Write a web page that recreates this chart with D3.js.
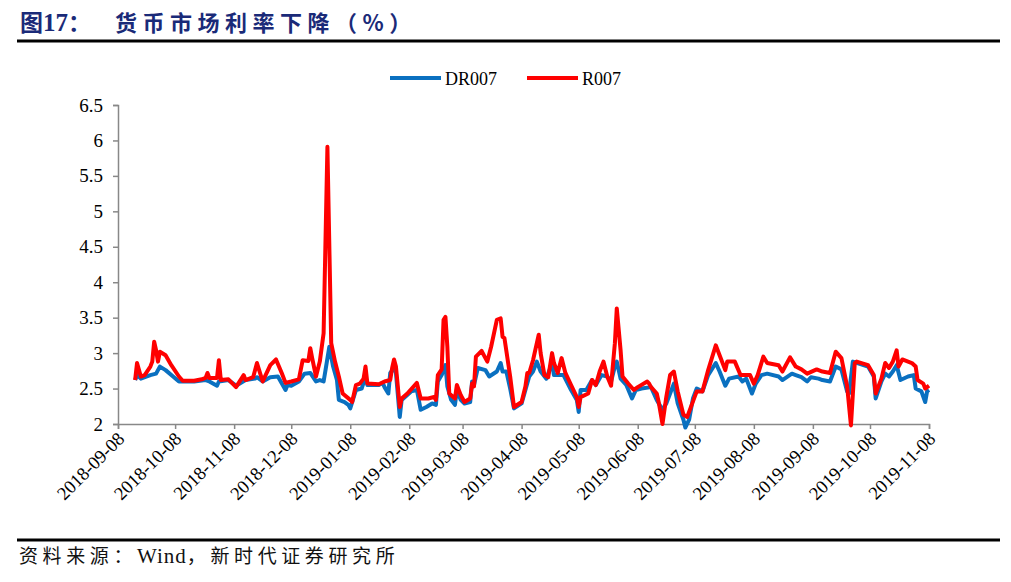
<!DOCTYPE html>
<html><head><meta charset="utf-8">
<script src="https://cdn.jsdelivr.net/npm/d3@7"></script>
<style>
body{margin:0;background:#fff;}
svg{display:block;}
</style></head>
<body>
<svg id="chart" width="1011" height="582"></svg>
<script>
const seriesNames = ["DR007", "R007"];
const xTickDates = ["2018-09-08","2018-10-08","2018-11-08","2018-12-08","2019-01-08","2019-02-08","2019-03-08","2019-04-08","2019-05-08","2019-06-08","2019-07-08","2019-08-08","2019-09-08","2019-10-08","2019-11-08"];
const yTicks = [2, 2.5, 3, 3.5, 4, 4.5, 5, 5.5, 6, 6.5];

const drDates = ["2018-09-17","2018-09-18","2018-09-20","2018-09-25","2018-09-28","2018-09-30","2018-10-03","2018-10-06","2018-10-10","2018-10-18","2018-10-24","2018-10-26","2018-10-30","2018-10-31","2018-11-05","2018-11-09","2018-11-14","2018-11-19","2018-11-20","2018-11-23","2018-11-27","2018-12-01","2018-12-05","2018-12-06","2018-12-08","2018-12-12","2018-12-15","2018-12-18","2018-12-21","2018-12-23","2018-12-25","2018-12-26","2018-12-28","2018-12-30","2019-01-01","2019-01-02","2019-01-05","2019-01-07","2019-01-08","2019-01-11","2019-01-14","2019-01-16","2019-01-17","2019-01-23","2019-01-25","2019-01-26","2019-01-28","2019-01-29","2019-01-31","2019-02-01","2019-02-03","2019-02-04","2019-02-09","2019-02-12","2019-02-14","2019-02-17","2019-02-20","2019-02-22","2019-02-23","2019-02-25","2019-02-27","2019-02-28","2019-03-02","2019-03-04","2019-03-05","2019-03-07","2019-03-09","2019-03-12","2019-03-13","2019-03-14","2019-03-16","2019-03-20","2019-03-22","2019-03-26","2019-03-28","2019-03-29","2019-03-31","2019-04-02","2019-04-04","2019-04-08","2019-04-10","2019-04-12","2019-04-14","2019-04-16","2019-04-18","2019-04-21","2019-04-24","2019-04-25","2019-04-30","2019-05-04","2019-05-07","2019-05-08","2019-05-09","2019-05-12","2019-05-15","2019-05-17","2019-05-20","2019-05-23","2019-05-25","2019-05-27","2019-05-28","2019-05-30","2019-06-02","2019-06-05","2019-06-07","2019-06-10","2019-06-15","2019-06-18","2019-06-21","2019-06-23","2019-06-25","2019-06-27","2019-06-29","2019-07-02","2019-07-03","2019-07-05","2019-07-07","2019-07-09","2019-07-12","2019-07-15","2019-07-19","2019-07-21","2019-07-24","2019-07-26","2019-07-31","2019-08-02","2019-08-04","2019-08-07","2019-08-09","2019-08-12","2019-08-15","2019-08-21","2019-08-23","2019-08-28","2019-08-30","2019-09-02","2019-09-05","2019-09-07","2019-09-11","2019-09-13","2019-09-17","2019-09-20","2019-09-23","2019-09-26","2019-09-27","2019-09-29","2019-10-07","2019-10-10","2019-10-11","2019-10-14","2019-10-16","2019-10-18","2019-10-20","2019-10-22","2019-10-24","2019-10-28","2019-10-31","2019-11-01","2019-11-04","2019-11-06","2019-11-07","2019-11-08"];
const drValues = [2.62,2.69,2.64,2.69,2.71,2.81,2.76,2.69,2.60,2.60,2.62,2.60,2.54,2.60,2.62,2.54,2.62,2.64,2.66,2.60,2.66,2.67,2.48,2.55,2.54,2.60,2.71,2.72,2.60,2.62,2.60,2.76,3.09,2.81,2.62,2.34,2.31,2.27,2.22,2.48,2.50,2.67,2.55,2.55,2.58,2.52,2.43,2.72,2.79,2.72,2.10,2.34,2.46,2.48,2.20,2.24,2.29,2.27,2.60,2.69,2.83,2.53,2.34,2.27,2.48,2.34,2.29,2.31,2.60,2.55,2.79,2.76,2.67,2.74,2.86,2.74,2.74,2.50,2.22,2.29,2.48,2.67,2.74,2.88,2.74,2.64,2.86,2.69,2.69,2.48,2.34,2.17,2.48,2.48,2.62,2.55,2.69,2.67,2.60,2.81,2.88,2.64,2.55,2.36,2.48,2.50,2.52,2.34,2.20,2.29,2.43,2.57,2.29,2.06,1.95,2.06,2.36,2.50,2.46,2.69,2.86,2.74,2.54,2.64,2.67,2.60,2.64,2.43,2.57,2.69,2.71,2.67,2.62,2.71,2.69,2.66,2.60,2.66,2.64,2.62,2.60,2.81,2.77,2.46,2.43,2.88,2.81,2.67,2.36,2.60,2.71,2.67,2.74,2.83,2.62,2.67,2.69,2.50,2.46,2.31,2.46,2.48];

const rDates = ["2018-09-17","2018-09-18","2018-09-20","2018-09-22","2018-09-25","2018-09-26","2018-09-27","2018-09-28","2018-09-29","2018-09-30","2018-10-03","2018-10-06","2018-10-10","2018-10-12","2018-10-18","2018-10-22","2018-10-24","2018-10-25","2018-10-26","2018-10-30","2018-10-31","2018-11-01","2018-11-05","2018-11-09","2018-11-13","2018-11-14","2018-11-18","2018-11-20","2018-11-23","2018-11-27","2018-11-30","2018-12-03","2018-12-05","2018-12-08","2018-12-12","2018-12-14","2018-12-17","2018-12-18","2018-12-19","2018-12-21","2018-12-23","2018-12-25","2018-12-27","2018-12-29","2018-12-31","2019-01-02","2019-01-04","2019-01-08","2019-01-09","2019-01-11","2019-01-13","2019-01-15","2019-01-16","2019-01-17","2019-01-23","2019-01-26","2019-01-29","2019-01-30","2019-01-31","2019-02-01","2019-02-03","2019-02-04","2019-02-07","2019-02-12","2019-02-14","2019-02-18","2019-02-21","2019-02-22","2019-02-23","2019-02-25","2019-02-26","2019-02-27","2019-02-28","2019-03-01","2019-03-04","2019-03-05","2019-03-07","2019-03-09","2019-03-12","2019-03-13","2019-03-14","2019-03-15","2019-03-18","2019-03-20","2019-03-21","2019-03-23","2019-03-26","2019-03-28","2019-03-29","2019-03-30","2019-04-02","2019-04-04","2019-04-08","2019-04-10","2019-04-11","2019-04-12","2019-04-14","2019-04-17","2019-04-18","2019-04-20","2019-04-22","2019-04-24","2019-04-25","2019-04-27","2019-04-29","2019-05-01","2019-05-04","2019-05-07","2019-05-08","2019-05-09","2019-05-13","2019-05-15","2019-05-17","2019-05-19","2019-05-21","2019-05-23","2019-05-25","2019-05-27","2019-05-28","2019-05-30","2019-05-31","2019-06-03","2019-06-06","2019-06-08","2019-06-13","2019-06-14","2019-06-15","2019-06-18","2019-06-19","2019-06-21","2019-06-23","2019-06-25","2019-06-27","2019-06-29","2019-07-02","2019-07-04","2019-07-09","2019-07-12","2019-07-15","2019-07-19","2019-07-21","2019-07-24","2019-07-25","2019-07-29","2019-08-01","2019-08-06","2019-08-08","2019-08-10","2019-08-13","2019-08-15","2019-08-21","2019-08-23","2019-08-27","2019-08-30","2019-09-02","2019-09-05","2019-09-10","2019-09-13","2019-09-17","2019-09-20","2019-09-23","2019-09-26","2019-09-28","2019-09-30","2019-10-01","2019-10-07","2019-10-10","2019-10-11","2019-10-14","2019-10-16","2019-10-18","2019-10-20","2019-10-22","2019-10-23","2019-10-25","2019-10-30","2019-11-01","2019-11-02","2019-11-05","2019-11-06","2019-11-08"];
const rValues = [2.62,2.86,2.67,2.69,2.81,2.88,3.16,3.04,2.88,3.02,2.97,2.83,2.67,2.61,2.61,2.63,2.65,2.72,2.65,2.65,2.90,2.62,2.63,2.52,2.69,2.62,2.66,2.86,2.60,2.83,2.91,2.72,2.58,2.60,2.63,2.90,2.89,3.07,2.93,2.67,2.88,3.28,5.91,3.14,2.88,2.67,2.43,2.34,2.31,2.55,2.57,2.64,2.81,2.57,2.56,2.60,2.62,2.79,2.91,2.81,2.24,2.36,2.43,2.58,2.36,2.36,2.38,2.34,2.69,2.77,3.47,3.51,3.09,2.43,2.36,2.55,2.41,2.31,2.36,2.57,2.53,2.95,3.03,2.93,2.88,3.09,3.47,3.49,3.23,3.21,2.67,2.24,2.31,2.53,2.72,2.72,2.90,3.26,3.00,2.69,2.66,3.00,2.86,2.72,2.93,2.72,2.55,2.38,2.24,2.38,2.43,2.62,2.55,2.74,2.88,2.67,2.54,3.14,3.63,3.04,2.67,2.57,2.48,2.52,2.60,2.57,2.52,2.43,2.31,2.00,2.38,2.69,2.74,2.46,2.13,2.10,2.46,2.46,2.76,3.11,2.97,2.76,2.88,2.88,2.69,2.69,2.57,2.69,2.95,2.86,2.83,2.74,2.94,2.81,2.77,2.71,2.77,2.74,2.72,3.02,2.93,2.53,1.98,2.86,2.88,2.83,2.69,2.43,2.64,2.86,2.79,2.88,3.04,2.81,2.91,2.86,2.81,2.62,2.57,2.50,2.54];

const colors = {"DR007": "#0a70c0", "R007": "#ff0000"};

const svg = d3.select("#chart");
const parse = d3.timeParse("%Y-%m-%d");
const x = d3.scaleTime()
  .domain([parse(xTickDates[0]), parse(xTickDates[xTickDates.length - 1])])
  .range([118, 929]);
const y = d3.scaleLinear().domain([2, 6.5]).range([424, 105]);

// Title
const navy = "#1a2a78";
const title = svg.append("text").attr("x", 20).attr("y", 31)
  .attr("fill", navy).attr("font-weight", "bold");
title.append("tspan").attr("font-family", "'Noto Sans CJK SC'").attr("font-size", 23).text("图");
title.append("tspan").attr("font-family", "'Liberation Serif'").attr("font-size", 25).text("17");
title.append("tspan").attr("font-family", "'Noto Sans CJK SC'").attr("font-size", 23).text("：");
svg.append("text").attr("x", 115).attr("y", 31).attr("fill", navy).attr("font-weight", "bold")
  .attr("font-family", "'Noto Sans CJK SC'").attr("font-size", 22).attr("letter-spacing", 5.5)
  .text("货币市场利率下降（%）");
svg.append("line").attr("x1", 17).attr("x2", 1000).attr("y1", 41).attr("y2", 41)
  .attr("stroke", "#000").attr("stroke-width", 3);

// Bottom rule and source
svg.append("line").attr("x1", 17).attr("x2", 1000).attr("y1", 540).attr("y2", 540)
  .attr("stroke", "#000").attr("stroke-width", 3);
const src = svg.append("text").attr("x", 19).attr("y", 563).attr("fill", "#111")
  .attr("font-size", 19).attr("letter-spacing", 4.6);
src.append("tspan").attr("font-family", "'Noto Sans CJK SC'").text("资料来源：");
src.append("tspan").attr("font-family", "'Liberation Serif'").attr("font-size", 21).attr("letter-spacing", 1).text("Wind");
src.append("tspan").attr("font-family", "'Noto Sans CJK SC'").text("，新时代证券研究所");

// Axes
const yAxis = d3.axisLeft(y).tickValues(yTicks).tickSize(5).tickPadding(10)
  .tickFormat(d => String(d));
const gy = svg.append("g").attr("transform", "translate(118,0)").call(yAxis);
gy.select(".domain").attr("stroke", "#888").attr("stroke-width", 1.5);
gy.selectAll(".tick line").attr("stroke", "#888").attr("stroke-width", 1.5);
gy.selectAll(".tick text").attr("font-family", "'Liberation Serif'").attr("font-size", 19).attr("fill", "#000");

const xAxis = d3.axisBottom(x).tickValues(xTickDates.map(parse)).tickSize(5)
  .tickFormat(d3.timeFormat("%Y-%m-%d"));
const gx = svg.append("g").attr("transform", "translate(0,424)").call(xAxis);
gx.select(".domain").attr("stroke", "#888").attr("stroke-width", 1.5);
gx.selectAll(".tick line").attr("stroke", "#888").attr("stroke-width", 1.5);
gx.selectAll(".tick text")
  .attr("font-family", "'Liberation Serif'").attr("font-size", 18.5).attr("fill", "#000")
  .attr("text-anchor", "end").attr("dy", 0)
  .attr("transform", "translate(7,16) rotate(-45)")
  .attr("y", 0).attr("x", 0);

// Lines
const line = d3.line().x(d => x(d.date)).y(d => y(d.value)).curve(d3.curveLinear);
const drData = drDates.map((d, i) => ({date: parse(d), value: drValues[i]}));
const rData = rDates.map((d, i) => ({date: parse(d), value: rValues[i]}));
svg.append("path").datum(drData).attr("d", line).attr("fill", "none")
  .attr("stroke", colors["DR007"]).attr("stroke-width", 4).attr("stroke-linejoin", "round");
svg.append("path").datum(rData).attr("d", line).attr("fill", "none")
  .attr("stroke", colors["R007"]).attr("stroke-width", 4).attr("stroke-linejoin", "round");

// Legend
const legendX = [390, 527];
seriesNames.forEach((name, i) => {
  const g = svg.append("g").attr("transform", `translate(${legendX[i]},78)`);
  g.append("line").attr("x1", 0).attr("x2", 51).attr("y1", 0).attr("y2", 0)
    .attr("stroke", colors[name]).attr("stroke-width", 4);
  g.append("text").attr("x", 55).attr("y", 6.5).attr("font-family", "'Liberation Serif'")
    .attr("font-size", 18).attr("fill", "#000").text(name);
});
</script>
</body></html>
